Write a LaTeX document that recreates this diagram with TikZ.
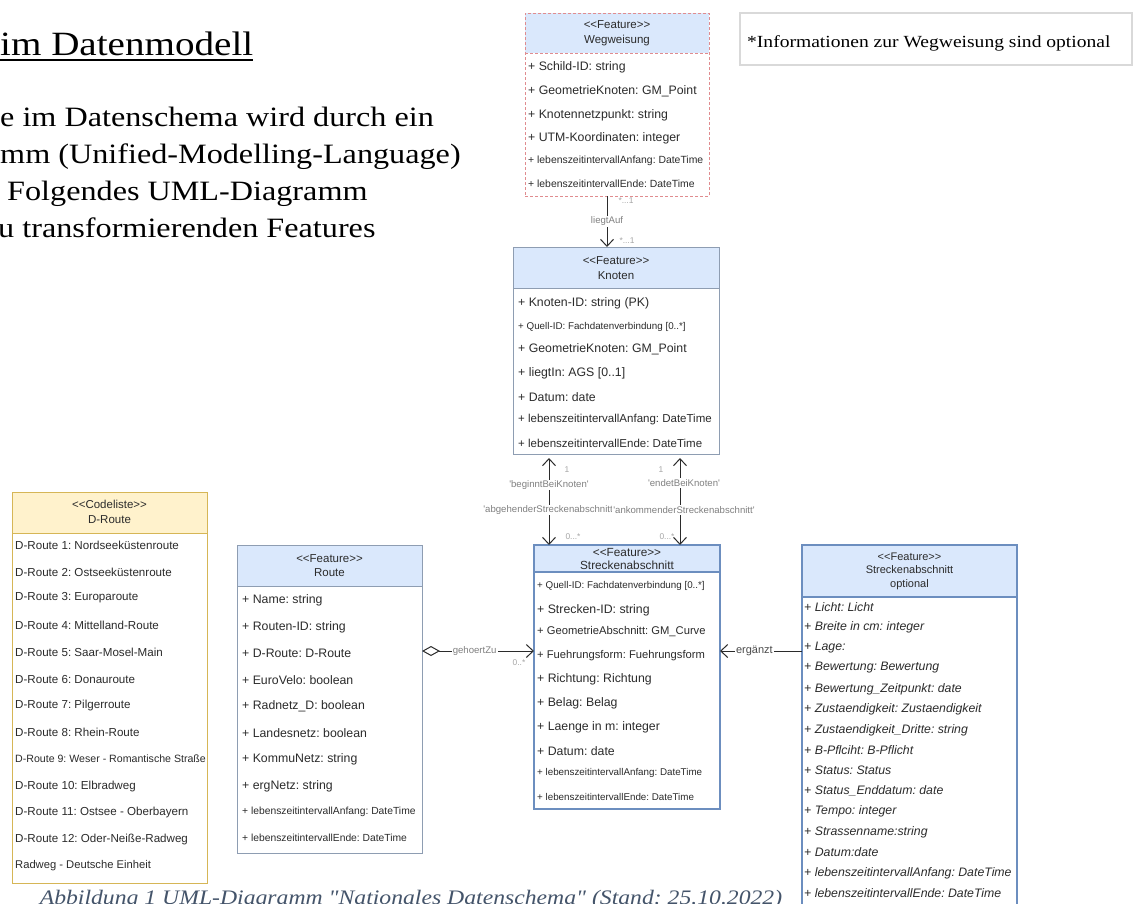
\documentclass[tikz,border=0pt]{standalone}
\usepackage{fontspec}
\setmainfont{Liberation Sans}
\newfontfamily\docserif{Liberation Serif}[FakeStretch=1.15]
\usetikzlibrary{arrows.meta}
\frenchspacing

\definecolor{hdrblue}{HTML}{DAE8FC}
\definecolor{lineblue}{HTML}{6C8EBF}
\definecolor{hdryellow}{HTML}{FFF2CC}
\definecolor{lineyellow}{HTML}{D6B656}
\definecolor{linered}{HTML}{E08C8F}
\definecolor{linegray}{HTML}{8E9DB2}
\definecolor{notegray}{HTML}{D9D9D9}
\definecolor{txtgray}{HTML}{2B2B2B}
\definecolor{lblgray}{HTML}{808080}
\definecolor{capblue}{HTML}{44546A}

\newcommand{\fsz}[2]{\fontsize{#1}{#2}\selectfont}
\newcommand{\squote}{\textquotesingle}

\begin{document}
\begin{tikzpicture}[x=1pt, y=-1pt,
    box/.style={draw=linegray, line width=1pt, anchor=north west, inner sep=0pt, outer sep=0pt},
    title/.style={align=center, text=txtgray, font=\fsz{11.5}{14.5}, inner sep=0pt},
    attr/.style={anchor=west, inner sep=0pt, text=txtgray},
    lbl/.style={fill=white, inner sep=1pt, text=lblgray, font=\fsz{9.6}{10}},
    mult/.style={inner sep=0pt, text=lblgray!70, font=\fsz{8.4}{9}},
    conn/.style={draw=txtgray, line width=1pt},
    >={Straight Barb[length=7pt,width=13pt]}]

    \fill[white] (0,0) rectangle (1136,903);
    \useasboundingbox (0,0) rectangle (1136,903);
    \clip (0,0) rectangle (1136,903);

    % text of the page
    \node[anchor=base west, inner sep=0pt, font=\docserif\fsz{34}{40}] (heading) at (0,55) {im Datenmodell};
    \draw[line width=1.6pt] ([yshift=-5pt]heading.base west) -- ([yshift=-5pt]heading.base east);
    \foreach \x/\y/\t [count=\i] in {0/126/{e im Datenschema wird durch ein}, 0/163/{mm (Unified-Modelling-Language)},
        7/200/{Folgendes UML-Diagramm}, -2/237/{u transformierenden Features}}
        \node[anchor=base west, inner sep=0pt, font=\docserif\fsz{28}{32}] (body-\i) at (\x,\y) {\t};

    \node[box, draw=notegray, line width=1.5pt, minimum width=392pt, minimum height=52pt] (hinweis) at (740,13) {};
    \node[anchor=base west, inner sep=0pt, font=\docserif\fsz{17}{20}] (hinweis-t) at (747,47) {*Informationen zur Wegweisung sind optional};

    % Wegweisung
    \fill[hdrblue] (525,13) rectangle (709,53);
    \node[box, draw=linered, dash pattern=on 3pt off 2pt, minimum width=184pt, minimum height=183pt] (wegweisung) at (525,13) {};
    \draw[linered, dash pattern=on 3pt off 2pt, line width=1pt] (525,53) -- (709,53);
    \node[title] (wegweisung-h) at (617,33) {{<}{<}Feature{>}{>}\\Wegweisung};
    \foreach \y/\fs/\t [count=\i] in {67/12.3/{+ Schild-ID: string}, 91/12.3/{+ GeometrieKnoten: GM\_Point},
        115/12.3/{+ Knotennetzpunkt: string}, 138/12.3/{+ UTM-Koordinaten: integer},
        161/10.4/{+ lebenszeitintervallAnfang: DateTime}, 184/10.4/{+ lebenszeitintervallEnde: DateTime}}
        \node[attr, font=\fsz{\fs}{\fs}] (wegweisung-\i) at (528,\y) {\t};

    % Knoten
    \fill[hdrblue] (513,247) rectangle (719,288);
    \node[box, minimum width=206pt, minimum height=207pt] (knoten) at (513,247) {};
    \draw[linegray, line width=1pt] (513,288) -- (719,288);
    \node[title] (knoten-h) at (616,268) {{<}{<}Feature{>}{>}\\Knoten};
    \foreach \y/\fs/\t [count=\i] in {303/12.3/{+ Knoten-ID: string (PK)}, 327/9.8/{+ Quell-ID: Fachdatenverbindung [0..*]},
        349/12.3/{+ GeometrieKnoten: GM\_Point}, 373/12.3/{+ liegtIn: AGS [0..1]}, 397/12.3/{+ Datum: date},
        420/11.5/{+ lebenszeitintervallAnfang: DateTime}, 443/11.5/{+ lebenszeitintervallEnde: DateTime}}
        \node[attr, font=\fsz{\fs}{\fs}] (knoten-\i) at (518,\y) {\t};

    % Codeliste D-Route
    \fill[hdryellow] (12,492) rectangle (207,533);
    \node[box, draw=lineyellow, minimum width=195pt, minimum height=391pt] (droute) at (12,492) {};
    \draw[lineyellow, line width=1pt] (12,533) -- (207,533);
    \node[title] (droute-h) at (109.5,512) {{<}{<}Codeliste{>}{>}\\D-Route};
    \foreach \y/\fs/\t [count=\i] in {545/11.6/{D-Route 1: Nordseeküstenroute}, 572/11.6/{D-Route 2: Ostseeküstenroute},
        598/11.6/{D-Route 3: Europaroute}, 625/11.6/{D-Route 4: Mittelland-Route}, 652/11.6/{D-Route 5: Saar-Mosel-Main},
        679/11.6/{D-Route 6: Donauroute}, 705/11.6/{D-Route 7: Pilgerroute}, 732/11.6/{D-Route 8: Rhein-Route},
        759/10.6/{D-Route 9: Weser - Romantische Straße}, 786/11.6/{D-Route 10: Elbradweg},
        812/11.6/{D-Route 11: Ostsee - Oberbayern}, 839/11.6/{D-Route 12: Oder-Neiße-Radweg},
        866/11.2/{Radweg - Deutsche Einheit}}
        \node[attr, font=\fsz{\fs}{\fs}] (droute-\i) at (15,\y) {\t};

    % Route
    \fill[hdrblue] (237,545) rectangle (422,586);
    \node[box, minimum width=185pt, minimum height=308pt] (route) at (237,545) {};
    \draw[linegray, line width=1pt] (237,586) -- (422,586);
    \node[title] (route-h) at (329.5,565.5) {{<}{<}Feature{>}{>}\\Route};
    \foreach \y/\fs/\t [count=\i] in {600/12.3/{+ Name: string}, 627/12.3/{+ Routen-ID: string},
        653/12.3/{+ D-Route: D-Route}, 680/12.3/{+ EuroVelo: boolean}, 706/12.3/{+ Radnetz\_D: boolean},
        733/12.3/{+ Landesnetz: boolean}, 759/12.3/{+ KommuNetz: string}, 786/12.3/{+ ergNetz: string},
        812/10.3/{+ lebenszeitintervallAnfang: DateTime}, 838/10.3/{+ lebenszeitintervallEnde: DateTime}}
        \node[attr, font=\fsz{\fs}{\fs}] (route-\i) at (242,\y) {\t};

    % Streckenabschnitt
    \fill[hdrblue] (534,545) rectangle (720,572);
    \node[box, draw=lineblue, line width=1.5pt, minimum width=186pt, minimum height=264pt] (strecken) at (534,545) {};
    \draw[lineblue, line width=1.5pt] (534,572) -- (720,572);
    \node[title, font=\fsz{11.8}{13}] (strecken-h) at (627,558.5) {{<}{<}Feature{>}{>}\\Streckenabschnitt};
    \foreach \y/\fs/\t [count=\i] in {586/9.8/{+ Quell-ID: Fachdatenverbindung [0..*]}, 610/12.3/{+ Strecken-ID: string},
        632/11.2/{+ GeometrieAbschnitt: GM\_Curve}, 656/11.2/{+ Fuehrungsform: Fuehrungsform},
        679/12.3/{+ Richtung: Richtung}, 703/12.3/{+ Belag: Belag}, 727/12.3/{+ Laenge in m: integer},
        751/12.3/{+ Datum: date}, 773/9.8/{+ lebenszeitintervallAnfang: DateTime}, 797/9.8/{+ lebenszeitintervallEnde: DateTime}}
        \node[attr, font=\fsz{\fs}{\fs}] (strecken-\i) at (537,\y) {\t};

    % Streckenabschnitt optional
    \fill[hdrblue] (802,545) rectangle (1017,597);
    \node[box, draw=lineblue, line width=1.5pt, minimum width=215pt, minimum height=385pt] (optional) at (802,545) {};
    \draw[lineblue, line width=1.5pt] (802,597) -- (1017,597);
    \node[title, font=\fsz{11}{13.5}] (optional-h) at (909.5,571) {{<}{<}Feature{>}{>}\\Streckenabschnitt\\optional};
    \foreach \y/\t [count=\i] in {607/{+ Licht: Licht}, 627/{+ Breite in cm: integer}, 648/{+ Lage:},
        668/{+ Bewertung: Bewertung}, 689/{+ Bewertung\_Zeitpunkt: date}, 709/{+ Zustaendigkeit: Zustaendigkeit},
        730/{+ Zustaendigkeit\_Dritte: string}, 750/{+ B-Pflciht: B-Pflicht}, 770/{+ Status: Status},
        791/{+ Status\_Enddatum: date}, 811/{+ Tempo: integer}, 832/{+ Strassenname:string}, 852/{+ Datum:date},
        873/{+ lebenszeitintervallAnfang: DateTime}, 893/{+ lebenszeitintervallEnde: DateTime}}
        \node[attr, font=\fsz{12.3}{12.3}\itshape] (optional-\i) at (804,\y) {\t};

    % connectors
    \coordinate (liegtauf) at (607,0);
    \coordinate (beginnt) at (549,0);
    \coordinate (endet) at (680,0);
    \coordinate (gehoert) at (0,651);

    \draw[conn, ->] (wegweisung.south -| liegtauf) -- node[lbl] (liegtauf-l) {liegtAuf} (knoten.north -| liegtauf);
    \node[mult] (liegtauf-m1) at (626,201) {*...1};
    \node[mult] (liegtauf-m2) at (627,241) {*...1};

    \draw[conn, <->, shorten <=4pt] (knoten.south -| beginnt) -- (strecken.north -| beginnt);
    \node[lbl] (beginnt-l1) at (549,485) {\squote beginntBeiKnoten\squote};
    \node[lbl] (beginnt-l2) at (549,510) {\squote abgehenderStreckenabschnitt\squote};
    \node[mult] (beginnt-m1) at (567,470) {1};
    \node[mult] (beginnt-m2) at (573,537) {0...*};

    \draw[conn, <->, shorten <=4pt] (knoten.south -| endet) -- (strecken.north -| endet);
    \node[lbl] (endet-l1) at (684,483) {\squote endetBeiKnoten\squote};
    \node[lbl] (endet-l2) at (684,510) {\squote ankommenderStreckenabschnitt\squote};
    \node[mult] (endet-m1) at (661,470) {1};
    \node[mult] (endet-m2) at (667,537) {0...*};

    \draw[conn, {Diamond[open,length=18pt,width=10pt]}->] (route.east |- gehoert) -- node[lbl, pos=0.47] (gehoert-l) {gehoertZu} (strecken.west |- gehoert);
    \node[mult] (gehoert-m) at (519,663) {0..*};

    \draw[conn, ->] (optional.west |- gehoert) -- node[lbl, pos=0.58, text=txtgray!85, font=\fsz{11}{11}] (ergaenzt-l) {ergänzt} (strecken.east |- gehoert);

    % caption
    \node[anchor=base, inner sep=0pt, text=capblue, font=\docserif\itshape\fsz{20.6}{24}] (caption) at (411,904)
        {Abbildung 1 UML-Diagramm "Nationales Datenschema" (Stand: 25.10.2022)};
\end{tikzpicture}
\end{document}
